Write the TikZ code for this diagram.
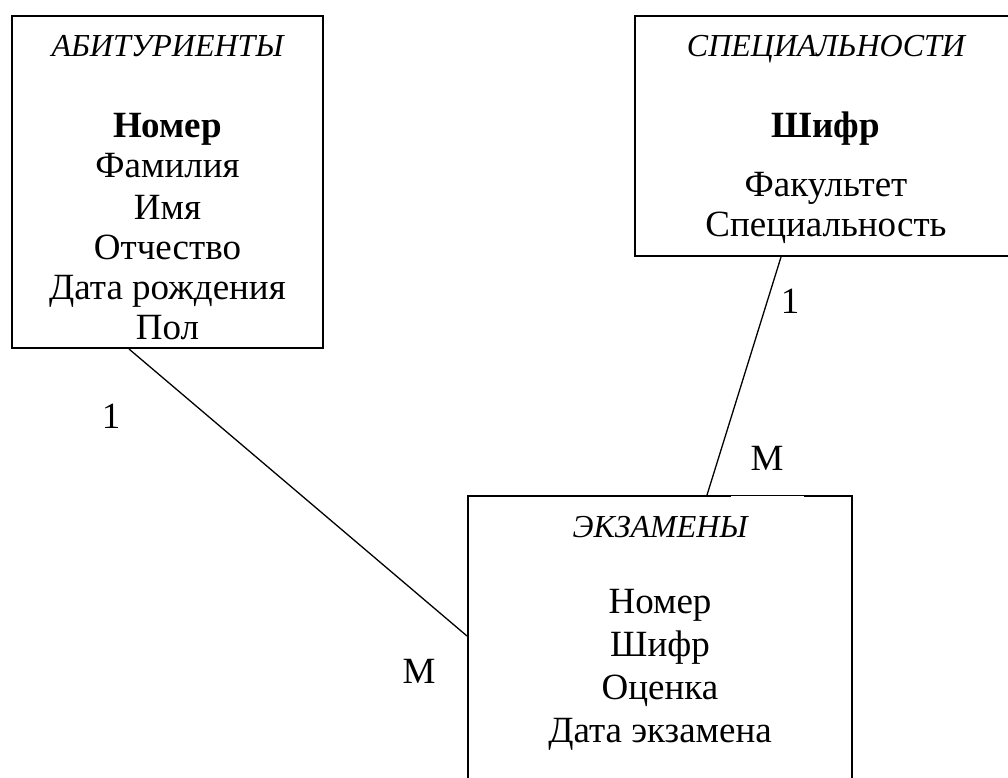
\documentclass[tikz,border=0pt]{standalone}
\usepackage{fontspec}
\setmainfont{Liberation Serif}
\usetikzlibrary{calc}
\tikzset{
  entity/.style={draw, line width=2pt, rectangle, inner sep=0pt},
  rel/.style={line width=1.3pt},
  ttl/.style={font=\fontsize{32}{36}\selectfont\itshape, anchor=base, inner sep=0pt},
  body/.style={font=\fontsize{37}{42}\selectfont, anchor=base, inner sep=0pt},
  card/.style={font=\fontsize{37}{42}\selectfont, anchor=base, inner sep=0pt}
}
\begin{document}
\begin{tikzpicture}[x=1pt,y=-1pt]
\useasboundingbox (0,0) rectangle (1008,778);
% boxes
\node[entity, minimum width=311pt, minimum height=332pt] (A) at (167.5,182) {};
\node[entity, minimum width=375pt, minimum height=240pt] (S) at (822.5,136) {};
\node[entity, minimum width=384pt, minimum height=300pt] (E) at (660,646) {};
% texts box A
\node[ttl] (At) at (167.5,57) {АБИТУРИЕНТЫ};
\node[body] (Ak) at (167.5,138) {\bfseries Номер};
\node[body] (Af) at (167.5,178) {Фамилия};
\node[body] (Ai) at (167.5,219) {Имя};
\node[body] (Ao) at (167.5,259) {Отчество};
\node[body] (Ad) at (167.5,299) {Дата рождения};
\node[body] (Ap) at (167.5,339) {Пол};
% texts box S
\node[ttl] (St) at (826,57) {СПЕЦИАЛЬНОСТИ};
\node[body] (Sk) at (826,138) {\bfseries Шифр};
\node[body] (Sf) at (826,196) {Факультет};
\node[body] (Ss) at (826,236) {Специальность};
% texts box E
\node[ttl] (Et) at (660,537) {ЭКЗАМЕНЫ};
\node[body] (En) at (660,613) {Номер};
\node[body] (Es) at (660,656) {Шифр};
\node[body] (Eo) at (660,699) {Оценка};
\node[body] (Ed) at (660,742) {Дата экзамена};
% connection points
\coordinate (a1) at ($(A.south west)+(118,0)$);
\coordinate (e1) at ($(E.north west)+(0,141)$);
\coordinate (s1) at ($(S.south west)+(147,0)$);
\coordinate (e2) at ($(E.north west)+(240,0)$);
% thinner top border segment under the label
\fill[white] ($(E.north west)+(264,-1.5)$) rectangle ($(E.north west)+(337,1.5)$);
\draw[line width=0.8pt] ($(E.north west)+(264,0)$) -- ($(E.north west)+(337,0)$);
% connectors
\draw[rel] (a1) -- (e1);
\draw[rel] (s1) -- (e2);
% cardinalities
\node[card] (c1) at (111,428) {1};
\node[card] (c2) at (419,683) {M};
\node[card] (c3) at (790,313) {1};
\node[card] (c4) at (767,470) {M};
\end{tikzpicture}
\end{document}
